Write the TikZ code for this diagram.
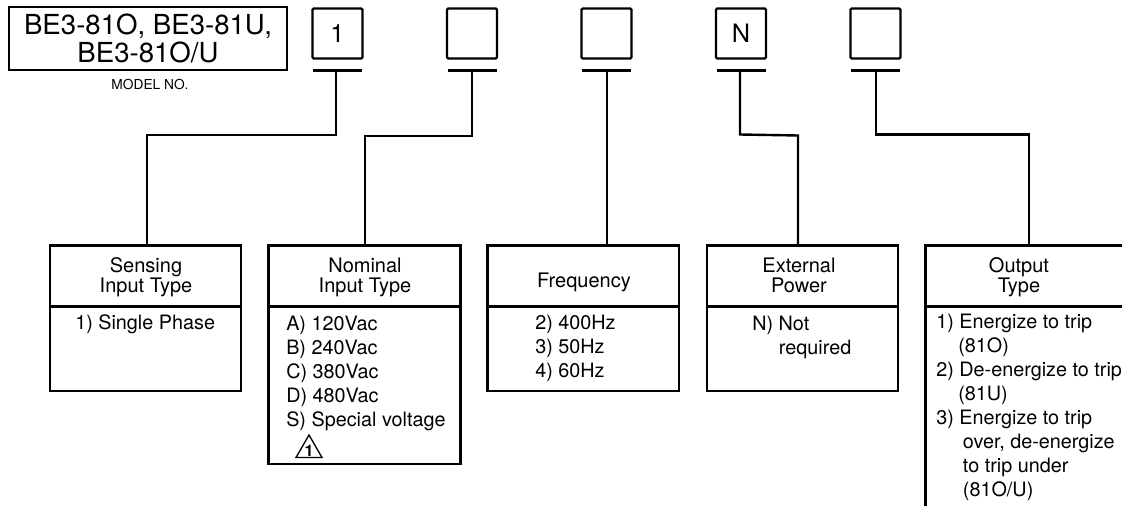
\documentclass[tikz,border=0pt]{standalone}
\usepackage{fontspec}
\usetikzlibrary{shapes.geometric}
\setmainfont{TeX Gyre Heros}
\newcommand{\bodyfs}{\fontsize{14.85pt}{18pt}\selectfont}
\tikzset{
  x=0.75pt,y=-0.75pt,
  ln/.style={draw=black,line width=1.9pt,line join=miter},
  conn/.style={draw=black,line width=1.8pt},
  cell/.style={draw=black,line width=1.7pt,rounded corners=1pt,minimum width=37.5pt,minimum height=37.5pt,inner sep=0pt,font=\fontsize{19pt}{20pt}\selectfont},
  titletext/.style={inner sep=0pt,align=center,font=\fontsize{15pt}{15pt}\selectfont},
  bodytext/.style={inner sep=0pt,anchor=north west,align=left,font=\bodyfs},
}
\begin{document}
\begin{tikzpicture}
\useasboundingbox (0,0) rectangle (1122,506);
\clip (0,0) rectangle (1122,506);
\node[ln,minimum width=208.5pt,minimum height=47.2pt,inner sep=0pt,align=center,font=\fontsize{20.7pt}{21pt}\selectfont] (model) at (148,38.5) {BE3-81O, BE3-81U,\\BE3-81O/U};
\node[inner sep=0pt,font=\fontsize{10.3pt}{10pt}\selectfont] (mlabel) at (150,84) {MODEL NO.};
\foreach \n/\xc/\t in {c1/337.5/1,c2/472/{},c3/606.5/{},c4/741/N,c5/875.5/{}}{
  \node[cell] (\n) at (\xc,33.5) {\t};
  \coordinate (\n l) at (\xc-24.5,70.5);
  \coordinate (\n r) at (\xc+24.5,70.5);
  \draw[conn] (\n l) -- (\n r);
}
\coordinate (j1) at (336,70.5); \coordinate (j2) at (472,70.5); \coordinate (j3) at (607,70.5); \coordinate (j4) at (740,70.5); \coordinate (j5) at (876,70.5);
\foreach \n/\l/\r/\b/\tx/\ty/\t in {b1/50/241/391/146/277.5/{Sensing\\Input Type},b2/268.5/460.5/464/365/277.5/{Nominal\\Input Type},b3/487.5/679/391/584/282.5/{Frequency},b4/707/898/391/799/275.5/{External\\Power}}{
  \draw[ln] (\l,245.5) rectangle (\r,\b);
  \draw[ln] (\l,306.5) -- (\r,306.5);
  \node[titletext] (\n t) at (\tx,\ty) {\t};
}
\draw[ln] (1130,245.5) -- (925.5,245.5) -- (925.5,510);
\draw[ln] (925.5,306.5) -- (1130,306.5);
\node[titletext] (b5t) at (1019,277.5) {Output\\Type};
\coordinate (b1c) at (147,245.5); \coordinate (b2c) at (365,245.5); \coordinate (b3c) at (607,245.5); \coordinate (b4c) at (798,245.5); \coordinate (b5c) at (1029,245.5);
\draw[conn] (j1) -- (336,135) -- (147,135) -- (b1c);
\draw[conn] (j2) -- (472,136) -- (365,136) -- (b2c);
\draw[conn] (j3) -- (b3c);
\draw[conn] (j4) -- (740,134.5) -- (798,135.5) -- (b4c);
\draw[conn] (j5) -- (876,134.5) -- (1029,134.5) -- (b5c);
\node[bodytext] (t1) at (75,314.5) {1) Single Phase};
\node[bodytext] (t2) at (286,315.5) {A) 120Vac\\B) 240Vac\\C) 380Vac\\D) 480Vac\\S) Special voltage};
\node[draw=black,line width=1pt,regular polygon,regular polygon sides=3,inner sep=0pt,minimum size=22.5pt] (tri) at (309,450) {};
\node[inner sep=0pt,font=\bfseries\fontsize{12pt}{12pt}\selectfont] (tri1) at (309,451) {1};
\node[bodytext] (t3) at (535,315) {2) 400Hz\\3) 50Hz\\4) 60Hz};
\node[bodytext] (t4) at (752,316) {N) Not\\\hspace*{20pt}required};
\node[bodytext] (t5) at (936,314) {1) Energize to trip\\\hspace*{16.5pt}(81O)\\2) De-energize to trip\\\hspace*{16.5pt}(81U)\\3) Energize to trip\\\hspace*{20pt}over, de-energize\\\hspace*{20pt}to trip under\\\hspace*{20pt}(81O/U)};
\end{tikzpicture}
\end{document}
